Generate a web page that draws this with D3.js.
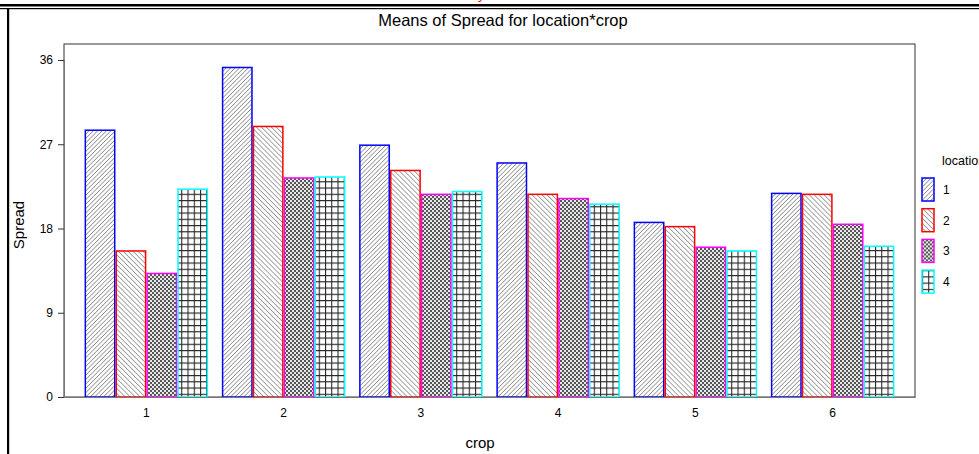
<!DOCTYPE html>
<html>
<head>
<meta charset="utf-8">
<script src="https://cdn.jsdelivr.net/npm/d3@7"></script>
<style>
  html, body { margin: 0; padding: 0; background: #fff; }
  svg { display: block; }
</style>
</head>
<body>
<div id="chart"></div>
<script>
  const crops = ["1", "2", "3", "4", "5", "6"];
  const locations = ["1", "2", "3", "4"];
  const spreadLoc1 = [28.5, 35.2, 26.9, 25.0, 18.65, 21.75];
  const spreadLoc2 = [15.6, 28.9, 24.2, 21.65, 18.2, 21.65];
  const spreadLoc3 = [13.2, 23.4, 21.65, 21.2, 16.0, 18.45];
  const spreadLoc4 = [22.2, 23.5, 21.95, 20.6, 15.6, 16.1];
  const yTicks = [0, 9, 18, 27, 36];

  const series = [spreadLoc1, spreadLoc2, spreadLoc3, spreadLoc4];
  const rows = [];
  crops.forEach((c, i) => {
    locations.forEach((l, j) => rows.push({ crop: c, loc: l, value: series[j][i] }));
  });

  const W = 979, H = 454;
  const FONT = '"Liberation Sans", Arial, sans-serif';
  const FRAME = { left: 64, top: 44, right: 915, bottom: 397 };
  const EDGE = { "1": "#0000ff", "2": "#ff0000", "3": "#ff00ff", "4": "#00ffff" };

  const svg = d3.select("#chart").append("svg")
    .attr("width", W).attr("height", H)
    .style("font-family", FONT);

  // fill patterns, one per location
  const defs = svg.append("defs");
  function hatch(id, angle, gap) {
    const p = defs.append("pattern").attr("id", id)
      .attr("patternUnits", "userSpaceOnUse")
      .attr("width", gap).attr("height", gap)
      .attr("patternTransform", `rotate(${angle})`);
    p.append("rect").attr("width", gap).attr("height", gap).attr("fill", "#fff");
    p.append("line").attr("x1", 0).attr("y1", 0).attr("x2", 0).attr("y2", gap)
      .attr("stroke", "#3a3a3a").attr("stroke-width", 0.9);
  }
  hatch("pat1", 45, 3.1);
  hatch("pat2", -45, 3.5);

  const chk = defs.append("pattern").attr("id", "pat3")
    .attr("patternUnits", "userSpaceOnUse").attr("width", 4).attr("height", 4);
  chk.append("rect").attr("width", 4).attr("height", 4).attr("fill", "#e8e8e8");
  chk.append("rect").attr("width", 2).attr("height", 2).attr("fill", "#555");
  chk.append("rect").attr("x", 2).attr("y", 2).attr("width", 2).attr("height", 2).attr("fill", "#555");

  const grid = defs.append("pattern").attr("id", "pat4")
    .attr("patternUnits", "userSpaceOnUse").attr("width", 6.25).attr("height", 6.25);
  grid.append("rect").attr("width", 6.25).attr("height", 6.25).attr("fill", "#fff");
  grid.append("path").attr("d", "M0.5,0V6.25M0,0.5H6.25")
    .attr("stroke", "#222").attr("stroke-width", 1.1).attr("fill", "none");

  // page rules
  svg.append("rect").attr("x", 0).attr("y", 4).attr("width", W).attr("height", 2.5).attr("fill", "#000");
  svg.append("rect").attr("x", 0).attr("y", 8).attr("width", W).attr("height", 1.2).attr("fill", "#000");
  svg.append("rect").attr("x", 7).attr("y", 8).attr("width", 2.2).attr("height", H - 8).attr("fill", "#000");
  svg.append("text").attr("x", 479).attr("y", -1).attr("font-size", 13)
    .attr("fill", "#e00").attr("font-style", "italic").text("y");

  // scales
  const x = d3.scaleBand().domain(crops)
    .range([FRAME.left, FRAME.right]).paddingInner(0.1).paddingOuter(0.15);
  const xi = d3.scaleBand().domain(locations).range([0, x.bandwidth()]);
  const y = d3.scaleLinear().domain([0, 36]).range([397, 60]);

  // plot frame
  svg.append("rect")
    .attr("x", FRAME.left).attr("y", FRAME.top)
    .attr("width", FRAME.right - FRAME.left).attr("height", FRAME.bottom - FRAME.top)
    .attr("fill", "none").attr("stroke", "#333").attr("stroke-width", 1);

  // bars
  svg.append("g").selectAll("rect").data(rows).join("rect")
    .attr("x", d => x(d.crop) + xi(d.loc) + 0.75)
    .attr("y", d => y(d.value))
    .attr("width", xi.bandwidth() - 1.5)
    .attr("height", d => y(0) - y(d.value))
    .attr("fill", d => `url(#pat${d.loc})`)
    .attr("stroke", d => EDGE[d.loc])
    .attr("stroke-width", 1.5);

  // axes
  const yAxis = svg.append("g").attr("transform", `translate(${FRAME.left},0)`)
    .call(d3.axisLeft(y).tickValues(yTicks).tickSize(6).tickPadding(5));
  const xAxis = svg.append("g").attr("transform", `translate(0,${FRAME.bottom})`)
    .call(d3.axisBottom(x).tickSize(0).tickPadding(11));
  [yAxis, xAxis].forEach(g => {
    g.select(".domain").attr("stroke", "#777");
    g.selectAll("text").attr("font-size", 12).attr("fill", "#000").style("font-family", FONT);
    g.selectAll(".tick line").attr("stroke", "#333");
  });

  // titles
  svg.append("text").attr("x", 503).attr("y", 26).attr("text-anchor", "middle")
    .attr("font-size", 16.5).text("Means of Spread for location*crop");
  svg.append("text").attr("x", 480).attr("y", 448).attr("text-anchor", "middle")
    .attr("font-size", 15).text("crop");
  svg.append("text").attr("transform", "translate(24,225) rotate(-90)")
    .attr("text-anchor", "middle").attr("font-size", 15).text("Spread");

  // legend (title runs past the page edge, as in the original)
  svg.append("text").attr("x", 942).attr("y", 165).attr("font-size", 12.5).text("location");
  const leg = svg.append("g").selectAll("g").data(locations).join("g")
    .attr("transform", (d, i) => `translate(922,${178 + i * 30.7})`);
  leg.append("rect").attr("width", 12).attr("height", 23)
    .attr("fill", d => `url(#pat${d})`)
    .attr("stroke", d => EDGE[d]).attr("stroke-width", 1.5);
  leg.append("text").attr("x", 21).attr("y", 16).attr("font-size", 12).text(d => d);
</script>
</body>
</html>
